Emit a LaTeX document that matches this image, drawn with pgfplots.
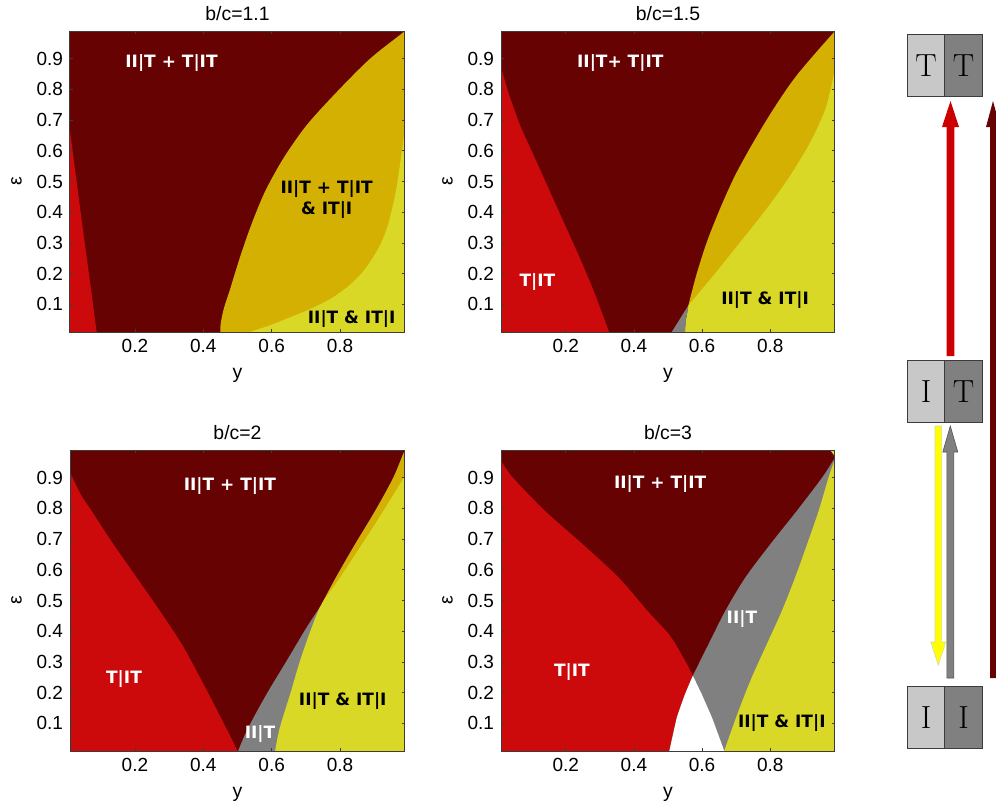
\documentclass[border=0pt]{standalone}
\usepackage{pgfplots}
\pgfplotsset{compat=1.18}
\usepackage{fontspec}
\setsansfont{Liberation Sans}
\newfontfamily\labfont{DejaVu Sans}
\definecolor{cMar}{RGB}{103,2,2}
\definecolor{cRed}{RGB}{204,10,12}
\definecolor{cGold}{RGB}{211,176,2}
\definecolor{cYel}{RGB}{218,216,38}
\definecolor{cGray}{RGB}{128,128,128}
\definecolor{cBoxL}{RGB}{200,200,200}
\definecolor{cFrame}{RGB}{60,60,60}
\definecolor{cArrY}{RGB}{255,255,0}
\definecolor{cArrR}{RGB}{204,0,0}
\pgfplotsset{
  panel/.style={
    scale only axis, height=150.5pt, anchor=south west,
    xmin=0.01, xmax=0.99, ymin=0.01, ymax=0.99,
    xtick={0.2,0.4,0.6,0.8},
    ytick={0.1,0.2,0.3,0.4,0.5,0.6,0.7,0.8,0.9},
    tick align=inside, major tick length=1.5pt,
    axis on top,
    axis line style={cFrame, line width=0.5pt},
    every tick/.style={cFrame, line width=0.4pt},
    tick label style={font=\sffamily\fontsize{9.5}{11}\selectfont},
    /pgf/number format/assume math mode=true,
    xlabel={y}, ylabel={ε},
    label style={font=\sffamily\fontsize{9.7}{11}\selectfont},
    every axis title/.style={font=\sffamily\fontsize{9.7}{11}\selectfont, at={(0.5,1.0365)}, anchor=base},
    xlabel style={at={(axis description cs:0.5,-0.1528)}, anchor=base},
    ylabel style={at={(axis description cs:-0.16,0.5)}, anchor=center},
  },
  reg/.style={draw=none, fill=#1, forget plot},
  sreg/.style={draw=none, fill=#1, forget plot, smooth, tension=0.5},
}
\tikzset{
  wlab/.style={font=\labfont\bfseries\fontsize{8.5}{10.5}\selectfont, text=white, align=center},
  blab/.style={font=\labfont\bfseries\fontsize{8.5}{10.5}\selectfont, text=black, align=center},
}
\begin{document}
\begin{tikzpicture}
\useasboundingbox (0,0) rectangle (498pt,-405.5pt);

% ---------- panel 1 : b/c = 1.1
\begin{axis}[panel, width=167.5pt, at={(35pt,-166pt)}, title={b/c=1.1}]
\addplot[reg=cMar] coordinates {(0.01,0.01) (0.99,0.01) (0.99,0.99) (0.01,0.99)};
\addplot[reg=cRed] coordinates {(0.01,0.01) (0.088,0.01) (0.069,0.17) (0.047,0.35) (0.028,0.51) (0.01,0.667)};
\addplot[sreg=cGold] coordinates {(0.450,-0.2) (0.450,0.01) (0.452,0.045) (0.461,0.09) (0.476,0.141) (0.506,0.249) (0.540,0.358) (0.580,0.466) (0.634,0.575) (0.702,0.683) (0.790,0.791) (0.888,0.900) (0.99,0.99) (1.09,1.08) (1.6,1.08) (1.6,-0.2)};
\addplot[sreg=cYel] coordinates {(0.45,-0.3) (0.45,-0.02) (0.536,0.01) (0.595,0.032) (0.645,0.054) (0.715,0.086) (0.775,0.12) (0.825,0.16) (0.862,0.2) (0.895,0.25) (0.920,0.3) (0.940,0.358) (0.963,0.466) (0.978,0.575) (0.99,0.672) (1.01,0.8) (1.1,0.95) (1.5,0.95) (1.5,-0.3)};
\node[wlab] at (axis cs:0.307,0.886) {II|T + T|IT};
\node[blab] at (axis cs:0.761,0.443) {II|T + T|IT\\\& IT|I};
\node[blab] at (axis cs:0.834,0.053) {II|T \& IT|I};
\end{axis}

% ---------- panel 2 : b/c = 1.5
\begin{axis}[panel, width=167pt, at={(250.5pt,-166pt)}, title={b/c=1.5}]
\addplot[reg=cMar] coordinates {(0.01,0.01) (0.99,0.01) (0.99,0.99) (0.01,0.99)};
\addplot[sreg=cRed] coordinates {(-0.01,0.95) (0.01,0.873) (0.031,0.792) (0.066,0.683) (0.110,0.575) (0.154,0.466) (0.198,0.358) (0.242,0.249) (0.283,0.141) (0.327,0.01) (0.34,-0.03) (0.34,-0.3) (-0.3,-0.3) (-0.3,0.95)};
\addplot[sreg=cGold] coordinates {(0.560,0.097) (0.583,0.195) (0.614,0.303) (0.653,0.412) (0.697,0.520) (0.751,0.629) (0.810,0.737) (0.878,0.846) (0.99,0.99) (1.1,1.12) (1.6,1.12) (1.6,-0.3) (0.55,-0.3) (0.55,0.01)};
\addplot[sreg=cYel] coordinates {(0.560,0.097) (0.634,0.195) (0.712,0.303) (0.790,0.412) (0.859,0.520) (0.918,0.629) (0.962,0.737) (0.986,0.846) (0.997,0.92) (1.02,1.0) (1.1,1.1) (1.6,1.1) (1.6,-0.3) (0.55,-0.3) (0.55,0.01) (0.555,0.06)};
\addplot[reg=cGray] coordinates {(0.511,0.01) (0.550,0.01) (0.553,0.05) (0.560,0.097)};
\node[wlab] at (axis cs:0.360,0.886) {II|T+ T|IT};
\node[wlab] at (axis cs:0.117,0.173) {T|IT};
\node[blab] at (axis cs:0.785,0.115) {II|T \& IT|I};
\end{axis}

% ---------- panel 3 : b/c = 2
\begin{axis}[panel, width=167.5pt, at={(35pt,-375.5pt)}, title={b/c=2}]
\addplot[reg=cMar] coordinates {(0.01,0.01) (0.99,0.01) (0.99,0.99) (0.01,0.99)};
\addplot[sreg=cRed] coordinates {(-0.01,0.95) (0.01,0.916) (0.041,0.846) (0.073,0.792) (0.137,0.683) (0.205,0.575) (0.273,0.466) (0.337,0.358) (0.390,0.250) (0.441,0.141) (0.500,0.01) (0.51,-0.03) (0.51,-0.3) (-0.3,-0.3) (-0.3,0.95)};
\addplot[sreg=cGray] coordinates {(0.495,-0.03) (0.502,0.01) (0.532,0.087) (0.585,0.195) (0.644,0.304) (0.702,0.412) (0.746,0.488) (0.788,0.575) (0.844,0.683) (0.903,0.792) (0.956,0.900) (0.99,0.99) (1.02,1.05) (1.6,1.05) (1.6,-0.3) (0.495,-0.3)};
\addplot[sreg=cGold] coordinates {(0.746,0.488) (0.788,0.575) (0.844,0.683) (0.903,0.792) (0.956,0.900) (0.99,0.99) (1.02,1.05) (1.6,1.05) (1.6,0.488)};
\addplot[sreg=cYel] coordinates {(0.605,-0.03) (0.610,0.01) (0.624,0.087) (0.654,0.195) (0.683,0.304) (0.717,0.412) (0.746,0.488) (0.800,0.575) (0.864,0.683) (0.927,0.792) (0.986,0.900) (1.01,0.95) (1.05,1.03) (1.6,1.03) (1.6,-0.3) (0.605,-0.3)};
\node[wlab] at (axis cs:0.478,0.872) {II|T + T|IT};
\node[wlab] at (axis cs:0.168,0.243) {T|IT};
\node[blab] at (axis cs:0.808,0.173) {II|T \& IT|I};
\node[wlab] at (axis cs:0.566,0.067) {II|T};
\end{axis}

% ---------- panel 4 : b/c = 3
\begin{axis}[panel, width=167pt, at={(250.5pt,-375.5pt)}, title={b/c=3}]
\addplot[reg=cMar] coordinates {(0.01,0.01) (0.99,0.01) (0.99,0.99) (0.01,0.99)};
\addplot[sreg=cRed] coordinates {(-0.02,0.99) (0.01,0.954) (0.045,0.900) (0.139,0.792) (0.250,0.683) (0.355,0.575) (0.440,0.466) (0.506,0.385) (0.550,0.304) (0.573,0.255) (0.599,0.195) (0.629,0.119) (0.665,0.01) (0.675,-0.03) (0.675,-0.3) (-0.3,-0.3) (-0.3,0.99)};
\addplot[sreg=cGray] coordinates {(0.50,-0.03) (0.504,0.01) (0.526,0.119) (0.550,0.195) (0.573,0.255) (0.619,0.358) (0.668,0.466) (0.727,0.575) (0.800,0.683) (0.878,0.792) (0.952,0.900) (0.99,0.965) (1.03,1.03) (1.6,1.03) (1.6,-0.3) (0.50,-0.3)};
\addplot[reg=white] coordinates {(0.504,0.01) (0.515,0.065) (0.526,0.119) (0.538,0.158) (0.550,0.195) (0.573,0.255) (0.599,0.195) (0.614,0.157) (0.629,0.119) (0.647,0.065) (0.665,0.01) (0.665,0.0) (0.504,0.0)};
\addplot[sreg=cYel] coordinates {(0.655,-0.03) (0.665,0.01) (0.707,0.141) (0.746,0.250) (0.790,0.358) (0.834,0.466) (0.873,0.575) (0.908,0.683) (0.942,0.792) (0.971,0.900) (0.99,0.962) (1.01,1.03) (1.6,1.03) (1.6,-0.3) (0.655,-0.3)};
\node[wlab] at (axis cs:0.477,0.880) {II|T + T|IT};
\node[wlab] at (axis cs:0.218,0.268) {T|IT};
\node[wlab] at (axis cs:0.717,0.439) {II|T};
\node[blab] at (axis cs:0.834,0.100) {II|T \& IT|I};
\end{axis}

% ---------- transition diagram (px units, y downward)
\begin{scope}[x=0.5pt, y=-0.5pt]
\foreach \yt/\a/\b in {34/T/T, 360/I/T, 686/I/I} {
  \fill[cBoxL] (907,\yt) rectangle (944.5,\yt+62);
  \fill[cGray] (944.5,\yt) rectangle (982,\yt+62);
  \draw[cFrame, line width=0.5pt] (907,\yt) rectangle (982,\yt+62) (944.5,\yt) -- (944.5,\yt+62);
  \node[font=\rmfamily\fontsize{16}{17}\selectfont, inner sep=0pt, anchor=base] at (926,\yt+42) {\a};
  \node[font=\rmfamily\fontsize{16}{17}\selectfont, inner sep=0pt, anchor=base] at (963.5,\yt+42) {\b};
}
% red arrow IT -> TT
\fill[cArrR] (946.6,356) -- (954.4,356) -- (954.4,127) -- (959,127) -- (950.5,101) -- (942,127) -- (946.6,127) -- cycle;
% maroon arrow II -> TT
\fill[cMar] (990,678) -- (996,678) -- (996,127) -- (1000,127) -- (993,101) -- (986,127) -- (990,127) -- cycle;
% yellow arrow IT -> II
\filldraw[fill=cArrY, draw={rgb,255:red,215;green,215;blue,170}, line width=0.3pt] (935,426) -- (941.6,426) -- (941.6,642) -- (945.8,642) -- (938.3,665) -- (930.8,642) -- (935,642) -- cycle;
% gray arrow II -> IT
\filldraw[fill=cGray, draw={rgb,255:red,85;green,85;blue,85}, line width=0.3pt] (946.8,678) -- (953.8,678) -- (953.8,452) -- (957.8,452) -- (950.3,426) -- (942.8,452) -- (946.8,452) -- cycle;
\end{scope}
\end{tikzpicture}
\end{document}
